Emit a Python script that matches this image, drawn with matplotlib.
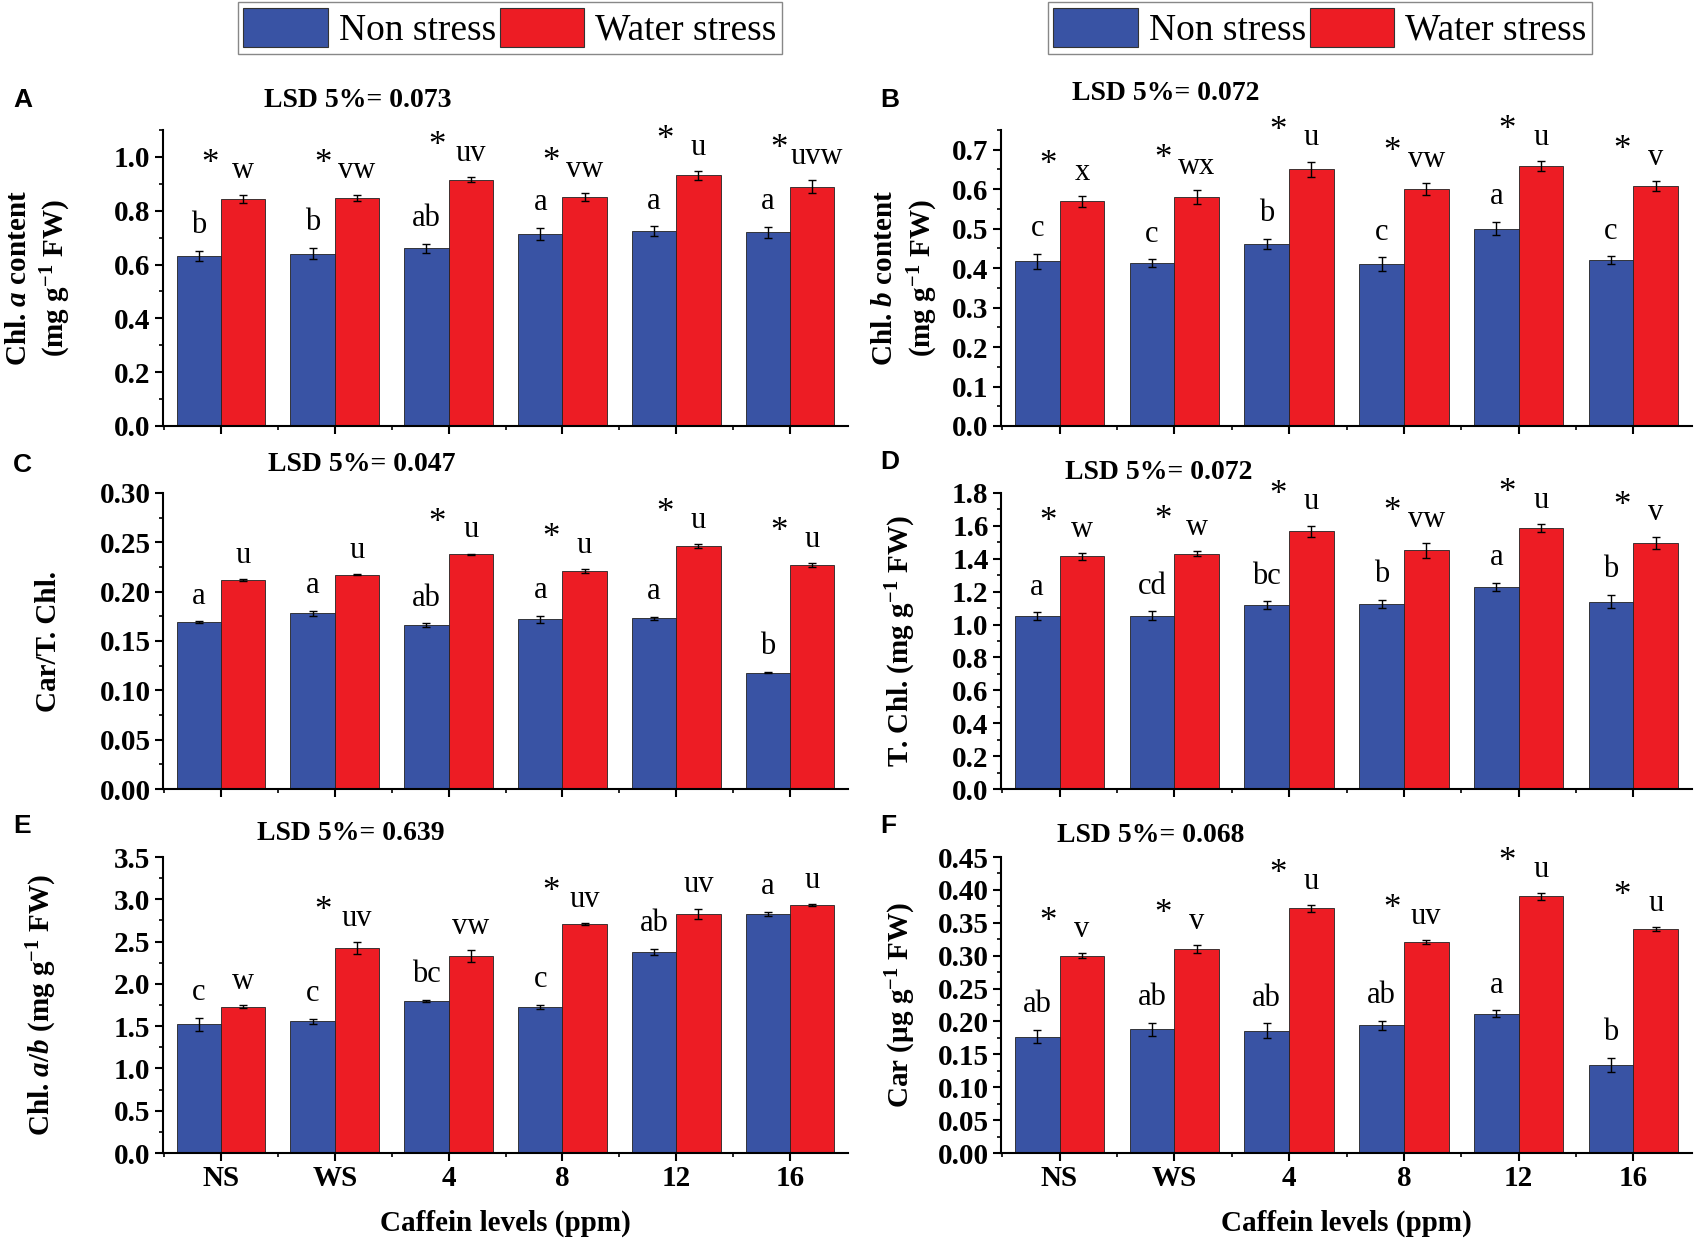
import matplotlib
matplotlib.use('Agg')
from matplotlib import pyplot as plt
from matplotlib.patches import Patch
from matplotlib.ticker import MultipleLocator

plt.rcParams['font.family'] = 'Liberation Serif'
plt.rcParams['font.weight'] = 'bold'
plt.rcParams['axes.labelweight'] = 'bold'
plt.rcParams['mathtext.fontset'] = 'custom'
plt.rcParams['mathtext.rm'] = 'Liberation Serif:bold'
plt.rcParams['mathtext.it'] = 'Liberation Serif:bold:italic'
plt.rcParams['mathtext.bf'] = 'Liberation Serif:bold'

BLUE = '#3953a4'
RED = '#ed1c24'

groups = ['NS', 'WS', '4', '8', '12', '16']

# Chl. a content
chla_ns = [0.632, 0.641, 0.660, 0.715, 0.724, 0.720]
chla_ws = [0.845, 0.848, 0.916, 0.852, 0.932, 0.890]
chla_ns_err = [0.020, 0.022, 0.017, 0.022, 0.018, 0.020]
chla_ws_err = [0.015, 0.012, 0.010, 0.015, 0.017, 0.025]
chla_ns_let = ['b', 'b', 'ab', 'a', 'a', 'a']
chla_ws_let = ['w', 'vw', 'uv', 'vw', 'u', 'uvw']
chla_star = [1, 1, 1, 1, 1, 1]

# Chl. b content
chlb_ns = [0.417, 0.413, 0.461, 0.410, 0.500, 0.420]
chlb_ws = [0.569, 0.580, 0.650, 0.601, 0.658, 0.608]
chlb_ns_err = [0.019, 0.010, 0.013, 0.017, 0.017, 0.010]
chlb_ws_err = [0.014, 0.018, 0.020, 0.015, 0.013, 0.012]
chlb_ns_let = ['c', 'c', 'b', 'c', 'a', 'c']
chlb_ws_let = ['x', 'wx', 'u', 'vw', 'u', 'v']
chlb_star = [1, 1, 1, 1, 1, 1]

# Car / T. Chl.
cart_ns = [0.169, 0.178, 0.166, 0.172, 0.173, 0.118]
cart_ws = [0.212, 0.217, 0.238, 0.221, 0.246, 0.227]
cart_ns_err = [0.0012, 0.0025, 0.0018, 0.0035, 0.0015, 0.0006]
cart_ws_err = [0.0008, 0.0006, 0.0006, 0.0020, 0.0022, 0.0022]
cart_ns_let = ['a', 'a', 'ab', 'a', 'a', 'b']
cart_ws_let = ['u', 'u', 'u', 'u', 'u', 'u']
cart_star = [0, 0, 1, 1, 1, 1]

# T. Chl.
tchl_ns = [1.050, 1.055, 1.118, 1.125, 1.228, 1.140]
tchl_ws = [1.415, 1.430, 1.567, 1.452, 1.587, 1.497]
tchl_ns_err = [0.025, 0.025, 0.025, 0.025, 0.025, 0.042]
tchl_ws_err = [0.020, 0.015, 0.035, 0.045, 0.022, 0.038]
tchl_ns_let = ['a', 'cd', 'bc', 'b', 'a', 'b']
tchl_ws_let = ['w', 'w', 'u', 'vw', 'u', 'v']
tchl_star = [1, 1, 1, 1, 1, 1]

# Chl. a/b
ab_ns = [1.52, 1.56, 1.80, 1.73, 2.38, 2.83]
ab_ws = [1.73, 2.42, 2.33, 2.71, 2.83, 2.93]
ab_ns_err = [0.08, 0.03, 0.01, 0.025, 0.035, 0.025]
ab_ws_err = [0.02, 0.07, 0.07, 0.01, 0.06, 0.01]
ab_ns_let = ['c', 'c', 'bc', 'c', 'ab', 'a']
ab_ws_let = ['w', 'uv', 'vw', 'uv', 'uv', 'u']
ab_star = [0, 1, 0, 1, 0, 0]

# Car
car_ns = [0.177, 0.188, 0.186, 0.194, 0.212, 0.134]
car_ws = [0.300, 0.310, 0.372, 0.321, 0.390, 0.340]
car_ns_err = [0.010, 0.010, 0.011, 0.007, 0.005, 0.011]
car_ws_err = [0.004, 0.006, 0.005, 0.003, 0.005, 0.003]
car_ns_let = ['ab', 'ab', 'ab', 'ab', 'a', 'b']
car_ws_let = ['v', 'v', 'u', 'uv', 'u', 'u']
car_star = [1, 1, 1, 1, 1, 1]

lsd = ['0.073', '0.072', '0.047', '0.072', '0.639', '0.068']

panels = [
    ('A', chla_ns, chla_ws, chla_ns_err, chla_ws_err, chla_ns_let, chla_ws_let,
     chla_star, 'Chl. $\\mathit{a}$ content\n(mg g$^{-1}$ FW)', 1.1, 0.2),
    ('B', chlb_ns, chlb_ws, chlb_ns_err, chlb_ws_err, chlb_ns_let, chlb_ws_let,
     chlb_star, 'Chl. $\\mathit{b}$ content\n(mg g$^{-1}$ FW)', 0.75, 0.1),
    ('C', cart_ns, cart_ws, cart_ns_err, cart_ws_err, cart_ns_let, cart_ws_let,
     cart_star, 'Car/T. Chl.', 0.30, 0.05),
    ('D', tchl_ns, tchl_ws, tchl_ns_err, tchl_ws_err, tchl_ns_let, tchl_ws_let,
     tchl_star, 'T. Chl. (mg g$^{-1}$ FW)', 1.8, 0.2),
    ('E', ab_ns, ab_ws, ab_ns_err, ab_ws_err, ab_ns_let, ab_ws_let,
     ab_star, 'Chl. $\\mathit{a/b}$ (mg g$^{-1}$ FW)', 3.5, 0.5),
    ('F', car_ns, car_ws, car_ns_err, car_ws_err, car_ns_let, car_ws_let,
     car_star, 'Car (µg g$^{-1}$ FW)', 0.45, 0.05),
]

W, H = 1694, 1243
fig = plt.figure(figsize=(W / 100, H / 100), dpi=100)

# axes boxes in pixels: left, right, top, bottom
boxes = [(163, 848, 130, 426), (1001, 1692, 130, 426),
         (163, 848, 493, 789), (1001, 1692, 493, 789),
         (163, 848, 857, 1153), (1001, 1692, 857, 1153)]
ylab_x = [-0.131, -0.088, -0.147, -0.120, -0.152, -0.120]
lsd_xy = [(0.285, 1.10), (0.239, 1.125), (0.29, 1.095),
          (0.229, 1.068), (0.274, 1.08), (0.216, 1.074)]
letter_px = [(13, 100), (880, 100), (13, 465), (880, 462), (13, 826), (880, 826)]

bw = 0.39
x = list(range(len(groups)))

for i, (tag, ns, ws, ns_err, ws_err, ns_let, ws_let, star, ylab, ytop,
        ystep) in enumerate(panels):
    l, r, t, b = boxes[i]
    ax = fig.add_axes([l / W, 1 - b / H, (r - l) / W, (b - t) / H])
    xb = [v - bw / 2 for v in x]
    xr = [v + bw / 2 for v in x]
    ax.bar(xb, ns, bw, color=BLUE, edgecolor='#222222', linewidth=0.6)
    ax.bar(xr, ws, bw, color=RED, edgecolor='#222222', linewidth=0.6)
    ax.errorbar(xb, ns, yerr=ns_err, fmt='none', ecolor='black',
                elinewidth=1, capsize=3, capthick=1)
    ax.errorbar(xr, ws, yerr=ws_err, fmt='none', ecolor='black',
                elinewidth=1, capsize=3, capthick=1)

    for j in x:
        ax.annotate(ns_let[j], (xb[j], ns[j] + ns_err[j]), xytext=(0, 18),
                    textcoords='offset points', ha='center', va='center',
                    fontsize=22, fontweight='normal')
        # long letter groups sit a little to the right, as in the source
        shift = 0.04 if len(ws_let[j]) > 2 else 0.0
        ax.annotate(ws_let[j], (xr[j] + shift, ws[j] + ws_err[j]),
                    xytext=(0, 17), textcoords='offset points', ha='center',
                    va='center', fontsize=22, fontweight='normal')
        if star[j]:
            ax.annotate('*', (j - 0.1, ws[j] + ws_err[j]), xytext=(0, 22),
                        textcoords='offset points', ha='center', va='center',
                        fontsize=25, fontweight='normal')

    ax.set_xlim(-0.51, 5.51)
    ax.set_ylim(0, ytop)
    ax.yaxis.set_major_locator(MultipleLocator(ystep))
    ax.yaxis.set_minor_locator(MultipleLocator(ystep / 2))
    ax.set_xticks(x)
    ax.set_xticks([v + 0.5 for v in x[:-1]] + [-0.5], minor=True)
    fmt = '%.2f' if ystep < 0.1 else '%.1f'
    ax.yaxis.set_major_formatter(plt.FormatStrFormatter(fmt))

    for s in ['top', 'right']:
        ax.spines[s].set_visible(False)
    for s in ['left', 'bottom']:
        ax.spines[s].set_linewidth(1.5)
    ax.tick_params(which='major', length=6, width=1.5, labelsize=21, pad=3)
    ax.tick_params(which='minor', length=3, width=1.2)

    if i >= 4:
        ax.set_xticklabels(groups)
        ax.set_xlabel('Caffein levels (ppm)', fontsize=21)
        ax.xaxis.set_label_coords(0.5, -0.19)
    else:
        ax.set_xticklabels([])

    ax.set_ylabel(ylab, fontsize=21, linespacing=1.3)
    ax.yaxis.set_label_coords(ylab_x[i], 0.5)

    ax.text(lsd_xy[i][0], lsd_xy[i][1], 'LSD 5%= ' + lsd[i],
            transform=ax.transAxes, ha='center', va='center', fontsize=20)
    fig.text(letter_px[i][0] / W, 1 - letter_px[i][1] / H, tag,
             family='Liberation Sans', fontweight='bold', fontsize=19,
             ha='left', va='center')

handles = [Patch(facecolor=BLUE, edgecolor='#333333', linewidth=0.8),
           Patch(facecolor=RED, edgecolor='#333333', linewidth=0.8)]
for cx in [510 / W, 1320 / W]:
    fig.legend(handles, ['Non stress', 'Water stress'], loc='center',
               bbox_to_anchor=(cx, 1 - 28 / H), ncol=2, fancybox=False,
               edgecolor='#888888', framealpha=1,
               prop={'family': 'Liberation Serif', 'weight': 'normal',
                     'size': 27},
               handlelength=2.25, handleheight=1.2, handletextpad=0.3,
               columnspacing=0.1, borderpad=0.15, borderaxespad=0)

fig.savefig('out.png', dpi=100)
